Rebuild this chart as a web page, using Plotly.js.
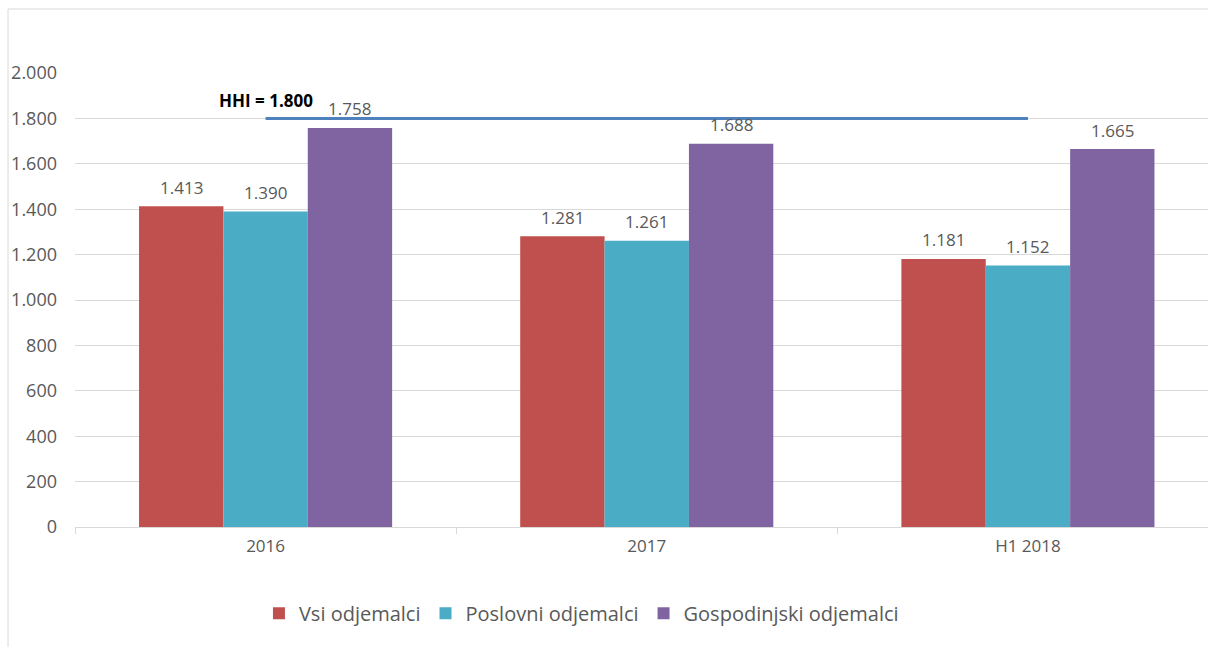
<!DOCTYPE html>
<html>
<head>
<meta charset="utf-8">
<script src="https://cdn.plot.ly/plotly-3.0.1.min.js"></script>
<style>html,body{margin:0;padding:0;overflow:hidden;background:#fff;}</style>
</head>
<body>
<div id="chart" style="width:1208px;height:647px;"></div>
<script>
const categories = ['2016', '2017', 'H1 2018'];
const seriesNames = ['Vsi odjemalci', 'Poslovni odjemalci', 'Gospodinjski odjemalci'];
const vsi = [1413, 1281, 1181];
const poslovni = [1390, 1261, 1152];
const gospodinjski = [1758, 1688, 1665];
const hhiValue = 1800;
const hhiLabel = 'HHI = 1.800';
const colors = ['#C0504D', '#4BACC6', '#8064A2'];

const font = '"Open Sans", sans-serif';
const gray = '#595959';
const bargap = 0.336;

const seriesValues = [vsi, poslovni, gospodinjski];
const traces = seriesValues.map((vals, i) => ({
  type: 'bar',
  name: seriesNames[i],
  x: categories,
  y: vals,
  marker: {color: colors[i]},
  hoverinfo: 'skip'
}));

traces.push({
  type: 'scatter',
  mode: 'lines',
  x: [categories[0], categories[categories.length - 1]],
  y: [hhiValue, hhiValue],
  line: {color: '#4F81BD', width: 3},
  showlegend: false,
  hoverinfo: 'skip',
  cliponaxis: false
});

// data labels placed via the category axis (index + group offset)
const nS = seriesValues.length;
const bw = (1 - bargap) / nS;
const fmt = v => Plotly.d3 ? String(v) : String(v);
function thousands(v) {
  return String(v).replace(/\B(?=(\d{3})+(?!\d))/g, '.');
}
const annotations = [];
seriesValues.forEach((vals, i) => {
  vals.forEach((v, j) => {
    annotations.push({
      x: j + (i - (nS - 1) / 2) * bw,
      y: v,
      xref: 'x',
      yref: 'y',
      text: thousands(v),
      showarrow: false,
      yanchor: 'middle',
      yshift: 19,
      font: {family: font, size: 17, color: gray}
    });
  });
});
annotations.push({
  x: categories.indexOf(categories[0]),
  y: hhiValue,
  xref: 'x',
  yref: 'y',
  text: '<b>' + hhiLabel + '</b>',
  showarrow: false,
  yanchor: 'middle',
  yshift: 18,
  font: {family: font, size: 17, color: '#000'}
});

const layout = {
  width: 1208,
  height: 647,
  margin: {l: 75, r: 0, t: 73, b: 120},
  separators: ',.',
  paper_bgcolor: '#fff',
  plot_bgcolor: '#fff',
  barmode: 'group',
  bargap: bargap,
  bargroupgap: 0,
  font: {family: font, color: gray, size: 16},
  xaxis: {
    type: 'category',
    range: [-0.5, 2.4724],
    showgrid: false,
    showline: true,
    linecolor: '#d9d9d9',
    linewidth: 1,
    ticks: 'outside',
    tickson: 'boundaries',
    ticklen: 6,
    tickcolor: '#d9d9d9',
    ticklabelstandoff: 4,
    tickfont: {family: font, size: 17, color: gray},
    zeroline: false,
    fixedrange: true
  },
  yaxis: {
    range: [0, 2000],
    dtick: 200,
    tickformat: ',d',
    showgrid: true,
    gridcolor: '#d9d9d9',
    gridwidth: 1,
    zeroline: false,
    showline: false,
    ticks: '',
    ticklabelstandoff: 17,
    tickfont: {family: font, size: 18, color: gray},
    fixedrange: true
  },
  legend: {
    orientation: 'h',
    x: 0.447,
    xanchor: 'center',
    y: -0.19,
    yanchor: 'middle',
    font: {family: font, size: 20, color: gray},
    itemwidth: 30,
    tracegroupgap: 0
  },
  annotations: annotations,
  shapes: [{
    type: 'rect',
    xref: 'paper',
    yref: 'paper',
    x0: -0.0591,
    x1: 1.02,
    y0: -0.4,
    y1: 1.141,
    line: {color: '#d9d9d9', width: 1},
    fillcolor: 'rgba(0,0,0,0)',
    layer: 'below'
  }]
};

Plotly.newPlot('chart', traces, layout, {displayModeBar: false, staticPlot: true});
</script>
</body>
</html>
